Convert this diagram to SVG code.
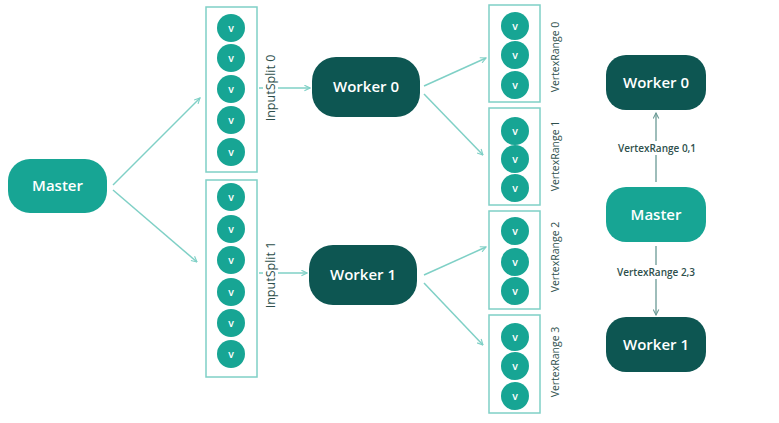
<svg xmlns="http://www.w3.org/2000/svg" width="779" height="423" viewBox="0 0 779 423">
<style>
.master{fill:#17a594}
.worker{fill:#0d5652}
.nt{font-family:"Open Sans","Liberation Sans",sans-serif;font-size:15px;font-weight:600;fill:#ffffff;text-anchor:middle}
.box{fill:none;stroke:#7fd0c6;stroke-width:1.5}
.vc{fill:#17a594}
.vt{font-family:"Open Sans","Liberation Sans",sans-serif;font-size:10.5px;font-weight:600;fill:#ffffff;text-anchor:middle}
.lbl{font-family:"Open Sans","Liberation Sans",sans-serif;font-size:10.5px;fill:#2e4f4c;text-anchor:middle}
.lbl1{font-family:"Open Sans","Liberation Sans",sans-serif;font-size:12.5px;font-weight:500;fill:#2e4f4c;text-anchor:middle}
.lbl2{font-family:"Open Sans","Liberation Sans",sans-serif;font-size:10px;font-weight:600;fill:#2e4f4c;text-anchor:middle}
.c{stroke:#7fd0c6;stroke-width:1.5;fill:none;marker-end:url(#ah)}
.c2{stroke:#6a9a95;stroke-width:1.3;fill:none;marker-end:url(#ah2)}
</style>
<defs>
<marker id="ah" viewBox="0 0 10 10" refX="9" refY="5" markerWidth="7" markerHeight="7" orient="auto" markerUnits="userSpaceOnUse">
<path d="M1,1 L9,5 L1,9" fill="none" stroke="#7fd0c6" stroke-width="1.6"/>
</marker>
<marker id="ah2" viewBox="0 0 10 10" refX="9" refY="5" markerWidth="7" markerHeight="7" orient="auto" markerUnits="userSpaceOnUse">
<path d="M1,1 L9,5 L1,9" fill="none" stroke="#6a9a95" stroke-width="1.5"/>
</marker>
</defs>
<rect width="779" height="423" fill="#ffffff"/>

<g id="connectors">
<line class="c" x1="113" y1="185" x2="200" y2="98"/>
<line class="c" x1="113" y1="190" x2="197" y2="262"/>
<line class="c" x1="259" y1="88" x2="310" y2="88"/>
<line class="c" x1="259" y1="273" x2="307" y2="273"/>
<line class="c" x1="424" y1="86" x2="486" y2="58"/>
<line class="c" x1="424" y1="94" x2="483" y2="155"/>
<line class="c" x1="424" y1="275" x2="486" y2="247"/>
<line class="c" x1="424" y1="283" x2="483" y2="345"/>
<line class="c2" x1="656" y1="182" x2="656" y2="113"/>
<line class="c2" x1="656" y1="246" x2="656" y2="315"/>
</g>

<g id="master-left">
<rect class="master" x="8" y="159" width="99" height="54" rx="22"/>
<text class="nt" x="57.5" y="191">Master</text>
</g>

<g id="inputsplit0">
<rect class="box" x="206" y="7" width="51" height="165"/>
<circle class="vc" cx="231" cy="28" r="14"/><text class="vt" x="231" y="32">v</text>
<circle class="vc" cx="231" cy="58" r="14"/><text class="vt" x="231" y="62">v</text>
<circle class="vc" cx="231" cy="89" r="14"/><text class="vt" x="231" y="93">v</text>
<circle class="vc" cx="231" cy="120" r="14"/><text class="vt" x="231" y="124">v</text>
<circle class="vc" cx="231" cy="152" r="14"/><text class="vt" x="231" y="156">v</text>
<rect x="263" y="51" width="15" height="74" fill="#ffffff"/>
<text class="lbl1" transform="translate(275,88) rotate(-90)">InputSplit 0</text>
</g>

<g id="inputsplit1">
<rect class="box" x="206" y="180" width="51" height="197"/>
<circle class="vc" cx="231" cy="197" r="14"/><text class="vt" x="231" y="201">v</text>
<circle class="vc" cx="231" cy="229" r="14"/><text class="vt" x="231" y="233">v</text>
<circle class="vc" cx="231" cy="260" r="14"/><text class="vt" x="231" y="264">v</text>
<circle class="vc" cx="231" cy="292" r="14"/><text class="vt" x="231" y="296">v</text>
<circle class="vc" cx="231" cy="323" r="14"/><text class="vt" x="231" y="327">v</text>
<circle class="vc" cx="231" cy="354" r="14"/><text class="vt" x="231" y="358">v</text>
<rect x="263" y="237" width="15" height="74" fill="#ffffff"/>
<text class="lbl1" transform="translate(275,275) rotate(-90)">InputSplit 1</text>
</g>

<g id="worker0">
<rect class="worker" x="312" y="57" width="108" height="60" rx="24"/>
<text class="nt" x="366" y="92">Worker 0</text>
</g>

<g id="worker1">
<rect class="worker" x="309" y="245" width="108" height="60" rx="24"/>
<text class="nt" x="363" y="280">Worker 1</text>
</g>

<g id="vertexrange0">
<rect class="box" x="489" y="5" width="51" height="97"/>
<circle class="vc" cx="515" cy="26" r="14"/><text class="vt" x="515" y="30">v</text>
<circle class="vc" cx="515" cy="55" r="14"/><text class="vt" x="515" y="59">v</text>
<circle class="vc" cx="515" cy="85" r="14"/><text class="vt" x="515" y="89">v</text>
<text class="lbl" transform="translate(559,57) rotate(-90)">VertexRange 0</text>
</g>

<g id="vertexrange1">
<rect class="box" x="489" y="108" width="51" height="97"/>
<circle class="vc" cx="515" cy="131" r="14"/><text class="vt" x="515" y="135">v</text>
<circle class="vc" cx="515" cy="159" r="14"/><text class="vt" x="515" y="163">v</text>
<circle class="vc" cx="515" cy="188" r="14"/><text class="vt" x="515" y="192">v</text>
<text class="lbl" transform="translate(559,156) rotate(-90)">VertexRange 1</text>
</g>

<g id="vertexrange2">
<rect class="box" x="489" y="211" width="51" height="98"/>
<circle class="vc" cx="515" cy="231" r="14"/><text class="vt" x="515" y="235">v</text>
<circle class="vc" cx="515" cy="262" r="14"/><text class="vt" x="515" y="266">v</text>
<circle class="vc" cx="515" cy="291" r="14"/><text class="vt" x="515" y="295">v</text>
<text class="lbl" transform="translate(559,257) rotate(-90)">VertexRange 2</text>
</g>

<g id="vertexrange3">
<rect class="box" x="489" y="315" width="51" height="98"/>
<circle class="vc" cx="515" cy="337" r="14"/><text class="vt" x="515" y="341">v</text>
<circle class="vc" cx="515" cy="366" r="14"/><text class="vt" x="515" y="370">v</text>
<circle class="vc" cx="515" cy="396" r="14"/><text class="vt" x="515" y="400">v</text>
<text class="lbl" transform="translate(559,362) rotate(-90)">VertexRange 3</text>
</g>

<g id="worker0-right">
<rect class="worker" x="606" y="55" width="100" height="55" rx="20"/>
<text class="nt" x="656" y="88">Worker 0</text>
</g>

<g id="master-right">
<rect class="master" x="606" y="187" width="100" height="55" rx="20"/>
<text class="nt" x="656" y="220">Master</text>
</g>

<g id="worker1-right">
<rect class="worker" x="606" y="317" width="100" height="55" rx="20"/>
<text class="nt" x="656" y="350">Worker 1</text>
</g>

<g id="edge-labels">
<rect x="616" y="141" width="82" height="14" fill="#ffffff"/>
<text class="lbl2" x="657" y="152">VertexRange 0,1</text>
<rect x="614" y="265" width="84" height="14" fill="#ffffff"/>
<text class="lbl2" x="656" y="276">VertexRange 2,3</text>
</g>
</svg>
